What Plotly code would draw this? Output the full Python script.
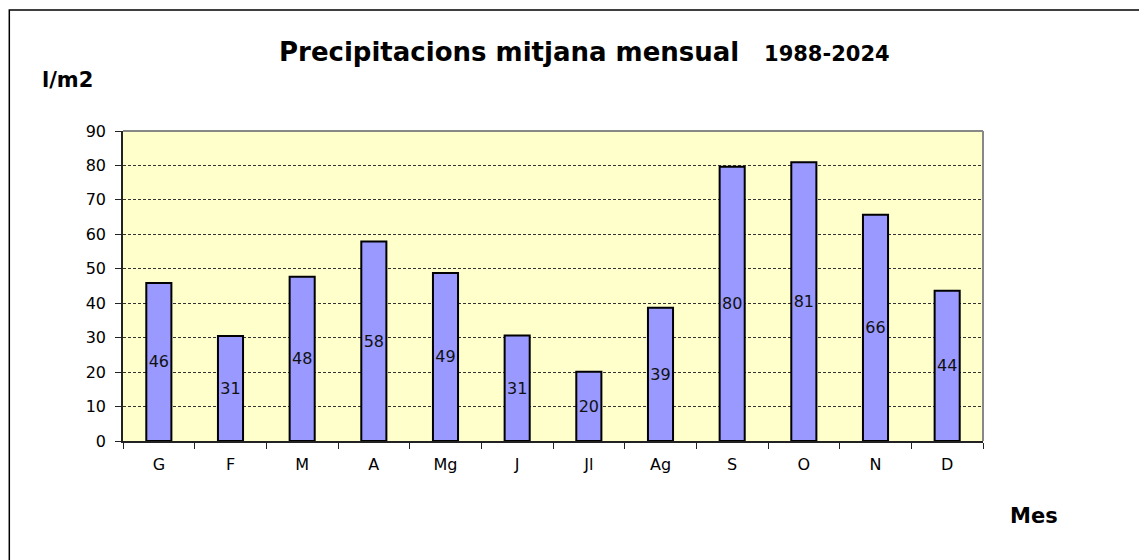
import plotly.graph_objects as go

mesos = ["G", "F", "M", "A", "Mg", "J", "Jl", "Ag", "S", "O", "N", "D"]
pluja = [45.9, 30.5, 47.7, 57.9, 48.8, 30.6, 20.1, 38.7, 79.6, 80.9, 65.7, 43.6]
y_ticks = [0, 10, 20, 30, 40, 50, 60, 70, 80, 90]

font = "DejaVu Sans, Arial, sans-serif"

fig = go.Figure(go.Bar(
    x=mesos, y=pluja,
    marker=dict(color="#9999FF", line=dict(color="black", width=2)),
    texttemplate="%{y:.0f}",
    textposition="inside",
    insidetextanchor="middle",
    textangle=0,
    constraintext="none",
    textfont=dict(family=font, size=16, color="#111"),
    hoverinfo="x+y",
))

# page body has an 8px margin, so the margins are shifted by 8
fig.update_layout(
    width=1147, height=560,
    margin=dict(l=115, r=172, t=123, b=127),
    paper_bgcolor="white",
    plot_bgcolor="#FFFFCC",
    bargap=0.65,
    showlegend=False,
    font=dict(family=font, color="black"),
)

fig.update_xaxes(
    showline=True, linecolor="#222", linewidth=1.5,
    ticks="outside", ticklen=6, tickcolor="#222", tickson="boundaries",
    tickfont=dict(size=16), ticklabelstandoff=8, showgrid=False,
)
fig.update_yaxes(
    range=[0, 90], tickvals=y_ticks,
    showline=True, linecolor="#222", linewidth=1.5,
    ticks="outside", ticklen=6, tickcolor="#222",
    tickfont=dict(size=16), ticklabelstandoff=6,
    showgrid=True, gridcolor="#333", gridwidth=1, griddash="3px,2px",
    zeroline=False,
)

# top and right plot border in grey
fig.add_shape(type="line", xref="paper", yref="paper", x0=0, x1=1, y0=1, y1=1,
              line=dict(color="#888", width=2))
fig.add_shape(type="line", xref="paper", yref="paper", x0=1, x1=1, y0=0, y1=1,
              line=dict(color="#888", width=2))
# outer chart frame
fig.add_shape(type="rect", xref="paper", yref="paper",
              x0=-0.1322, x1=1.2, y0=-0.42, y1=1.39,
              line=dict(color="black", width=1.5), layer="below")

fig.add_annotation(xref="paper", yref="paper", x=0.537, y=1.255, xanchor="center", yanchor="middle",
                   text="<b>Precipitacions mitjana mensual</b>   <b><span style='font-size:21px'>1988-2024</span></b>",
                   showarrow=False, font=dict(size=26))
fig.add_annotation(xref="paper", yref="paper", x=-0.0965, y=1.165, xanchor="left", yanchor="middle",
                   text="<b>l/m2</b>", showarrow=False, font=dict(size=21))
fig.add_annotation(xref="paper", yref="paper", x=1.029, y=-0.242, xanchor="left", yanchor="middle",
                   text="<b>Mes</b>", showarrow=False, font=dict(size=21))

fig.write_html("out.html")
